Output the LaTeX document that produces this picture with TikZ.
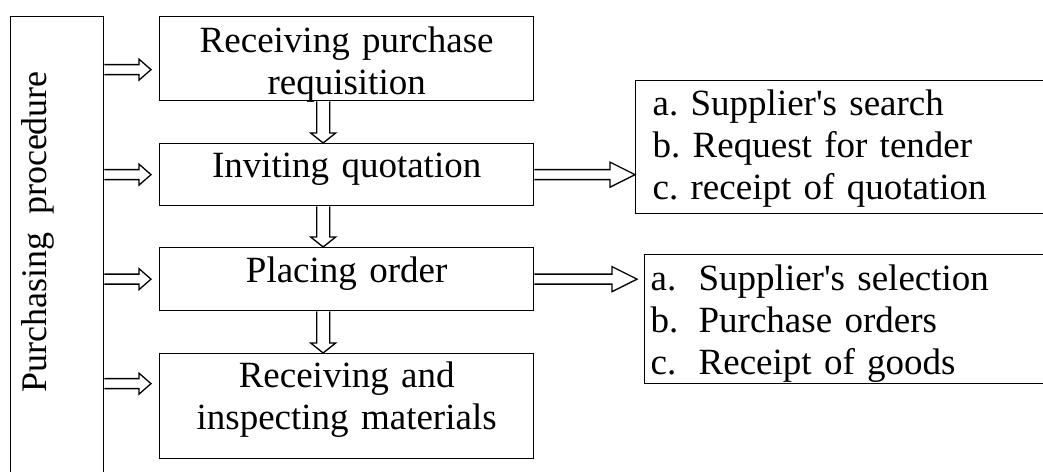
\documentclass[tikz,border=0pt]{standalone}
\usepackage{fontspec}
\setmainfont{Liberation Serif}
\usetikzlibrary{calc}
\frenchspacing

% hollow block arrows: #1 tail, #2 tip, #3 head length, #4 half head width
\newcommand{\blockright}[4]{%
  \draw ($(#1)+(0,5)$) -- ($(#2)+(-#3,5)$) -- ($(#2)+(-#3,#4)$) -- (#2)
    -- ($(#2)+(-#3,-#4)$) -- ($(#2)+(-#3,-5)$) -- ($(#1)+(0,-5)$);}
\newcommand{\blockdown}[2]{%
  \draw ($(#1)+(-6.5,0)$) -- ($(#2)+(-6.5,10)$) -- ($(#2)+(-12.5,10)$) -- (#2)
    -- ($(#2)+(12.5,10)$) -- ($(#2)+(6.5,10)$) -- ($(#1)+(6.5,0)$);}

\tikzset{
  stepbox/.style={draw, inner sep=0pt, text width=374pt, align=center, anchor=north west},
  listbox/.style={draw, inner ysep=0pt, text width=400pt, align=left, anchor=north west},
}

\begin{document}
\begin{tikzpicture}[x=1pt, y=1pt, line width=1.3pt,
    font=\fontsize{37}{42}\selectfont]
  \useasboundingbox (0,0) rectangle (1043,471);
  \clip (0,0) rectangle (1043,471);

  % procedure column, runs off the bottom
  \node[draw, anchor=north west, minimum width=93pt, minimum height=470pt] (proc) at (10,455) {};
  \node[rotate=90, font=\fontsize{36}{42}\selectfont] (proclabel) at (38,239)
    {Purchasing\ \ procedure};

  % steps
  \node[stepbox, text height=36pt, text depth=48pt] (req) at (159,455)
    {Receiving purchase\\requisition};
  \node[stepbox, text height=34pt, text depth=28pt] (quot) at (159,328)
    {Inviting quotation};
  \node[stepbox, text height=35pt, text depth=28pt] (order) at (159,224)
    {Placing order};
  \node[stepbox, text height=34pt, text depth=71pt] (insp) at (159,118)
    {Receiving and\\inspecting materials};

  % details
  \node[listbox, inner xsep=17pt, text height=35pt, text depth=98pt] (quotlist) at (635,391)
    {a. Supplier\textquotesingle s search\\b. Request for tender\\c. receipt of quotation};
  \node[listbox, inner xsep=6pt, text height=36pt, text depth=93pt] (orderlist) at (644,217)
    {\makebox[48pt][l]{a.}Supplier\textquotesingle s selection\\
     \makebox[48pt][l]{b.}Purchase orders\\
     \makebox[48pt][l]{c.}Receipt of goods};

  % arrows out of the column
  \coordinate (in1) at ($(req.west)+(-8,-11)$);
  \coordinate (in2) at ($(quot.west)+(-8,0)$);
  \coordinate (in3) at ($(order.west)+(-8,0)$);
  \coordinate (in4) at ($(insp.west)+(-8,22.5)$);
  \foreach \c in {in1,in2,in3,in4}
    \blockright{proc.east |- \c}{\c}{12}{10.5};

  % arrows down the steps
  \coordinate (d1) at ($(req.south)+(-23.5,0)$);
  \coordinate (d2) at ($(quot.south)+(-23.5,0)$);
  \coordinate (d3) at ($(order.south)+(-23.5,0)$);
  \blockdown{d1}{d1 |- quot.north};
  \blockdown{d2}{d2 |- order.north};
  \blockdown{d3}{d3 |- insp.north};

  % arrows to the details
  \blockright{quot.east}{quotlist.west |- quot.east}{25}{12.5};
  \coordinate (in6) at ($(orderlist.west |- order.east)+(-7,0)$);
  \blockright{order.east}{in6}{25}{12.5};
\end{tikzpicture}
\end{document}
